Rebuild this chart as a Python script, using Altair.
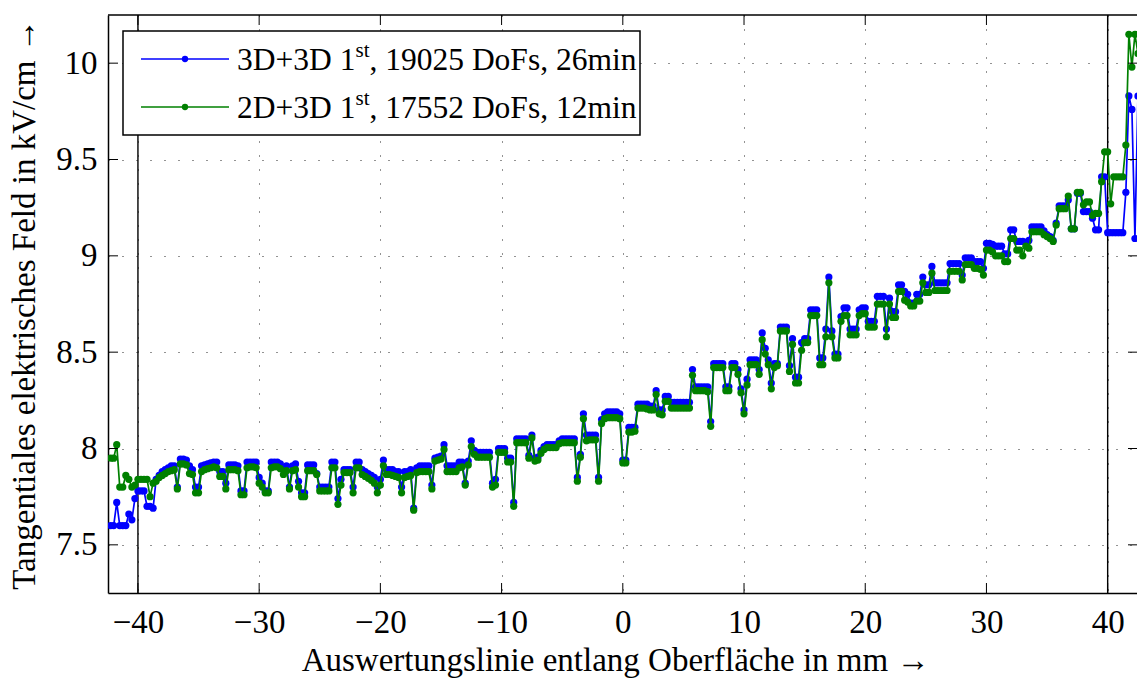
import altair as alt
import pandas as pd

# ---------------- data ----------------
X_START = -42.25   # first sample position (mm)
X_STEP = 0.25      # sample spacing (mm)

BLUE = [
    7.60, 7.60, 7.72, 7.60, 7.60, 7.60, 7.66, 7.63, 7.74, 7.78, 7.78, 7.78, 7.70, 7.70, 7.69, 7.84, 7.86, 7.88, 7.89, 7.90,
    7.91, 7.91, 7.80, 7.945, 7.945, 7.94, 7.91, 7.89, 7.80, 7.80, 7.91, 7.915, 7.92, 7.925, 7.93, 7.93, 7.88, 7.88, 7.82, 7.915,
    7.915, 7.915, 7.91, 7.78, 7.78, 7.93, 7.93, 7.93, 7.93, 7.85, 7.82, 7.78, 7.78, 7.93, 7.93, 7.93, 7.92, 7.89, 7.91, 7.80,
    7.91, 7.92, 7.83, 7.77, 7.77, 7.915, 7.915, 7.915, 7.87, 7.80, 7.80, 7.80, 7.80, 7.93, 7.93, 7.74, 7.84, 7.89, 7.89, 7.89,
    7.80, 7.93, 7.93, 7.89, 7.88, 7.87, 7.86, 7.85, 7.80, 7.84, 7.94, 7.89, 7.89, 7.89, 7.88, 7.88, 7.80, 7.88, 7.88, 7.89,
    7.69, 7.90, 7.91, 7.91, 7.91, 7.91, 7.81, 7.95, 7.955, 7.96, 8.02, 7.91, 7.91, 7.91, 7.91, 7.93, 7.93, 7.82, 7.935, 8.04,
    7.99, 7.98, 7.98, 7.98, 7.98, 7.98, 7.82, 7.84, 8.00, 8.00, 8.00, 7.95, 7.95, 7.72, 8.05, 8.05, 8.05, 8.05, 7.965, 8.07,
    7.95, 7.955, 7.99, 8.01, 8.02, 8.02, 8.02, 8.02, 8.04, 8.05, 8.05, 8.05, 8.05, 8.05, 7.85, 7.97, 8.18, 8.07, 8.07, 8.07,
    8.07, 7.85, 8.15, 8.18, 8.19, 8.19, 8.19, 8.19, 8.18, 7.94, 7.94, 8.11, 8.11, 8.11, 8.23, 8.23, 8.23, 8.23, 8.22, 8.22,
    8.30, 8.20, 8.20, 8.27, 8.27, 8.24, 8.24, 8.24, 8.24, 8.24, 8.24, 8.24, 8.41, 8.32, 8.32, 8.32, 8.32, 8.32, 8.14, 8.44,
    8.44, 8.44, 8.44, 8.32, 8.32, 8.44, 8.44, 8.41, 8.31, 8.20, 8.36, 8.46, 8.46, 8.46, 8.41, 8.60, 8.52, 8.46, 8.34, 8.44,
    8.44, 8.63, 8.63, 8.63, 8.43, 8.57, 8.37, 8.37, 8.55, 8.57, 8.57, 8.72, 8.72, 8.72, 8.47, 8.47, 8.62, 8.89, 8.61, 8.49,
    8.49, 8.685, 8.73, 8.73, 8.62, 8.62, 8.62, 8.72, 8.73, 8.73, 8.66, 8.66, 8.66, 8.79, 8.79, 8.79, 8.62, 8.78, 8.71, 8.71,
    8.85, 8.85, 8.815, 8.80, 8.755, 8.755, 8.80, 8.80, 8.89, 8.85, 8.85, 8.945, 8.86, 8.86, 8.86, 8.86, 8.86, 8.96, 8.96, 8.96,
    8.96, 8.90, 8.99, 8.99, 8.99, 8.97, 8.97, 8.97, 8.935, 9.065, 9.065, 9.06, 9.05, 9.05, 9.05, 9.01, 9.01, 9.135, 9.135, 9.075,
    9.075, 9.075, 9.07, 9.08, 9.15, 9.15, 9.15, 9.15, 9.13, 9.11, 9.10, 9.08, 9.17, 9.26, 9.26, 9.26, 9.29, 9.14, 9.14, 9.325,
    9.325, 9.23, 9.23, 9.23, 9.195, 9.135, 9.135, 9.41, 9.41, 9.12, 9.12, 9.12, 9.12, 9.12, 9.12, 9.33, 9.83, 9.76, 9.09, 9.83,
]

GREEN = [
    7.95, 7.95, 8.02, 7.80, 7.80, 7.86, 7.84, 7.80, 7.81, 7.84, 7.84, 7.84, 7.84, 7.75, 7.82, 7.83, 7.85, 7.86, 7.87, 7.88,
    7.885, 7.89, 7.79, 7.92, 7.92, 7.915, 7.87, 7.865, 7.77, 7.77, 7.88, 7.89, 7.895, 7.90, 7.905, 7.90, 7.855, 7.855, 7.79, 7.89,
    7.89, 7.89, 7.885, 7.76, 7.76, 7.90, 7.905, 7.905, 7.90, 7.82, 7.80, 7.77, 7.77, 7.90, 7.905, 7.905, 7.895, 7.865, 7.885, 7.79,
    7.885, 7.89, 7.80, 7.75, 7.75, 7.885, 7.885, 7.885, 7.865, 7.78, 7.78, 7.78, 7.78, 7.90, 7.90, 7.71, 7.81, 7.875, 7.875, 7.875,
    7.77, 7.90, 7.90, 7.865, 7.855, 7.845, 7.835, 7.82, 7.77, 7.81, 7.91, 7.865, 7.865, 7.86, 7.855, 7.85, 7.77, 7.85, 7.855, 7.86,
    7.68, 7.875, 7.88, 7.88, 7.88, 7.88, 7.79, 7.935, 7.94, 7.945, 7.995, 7.88, 7.88, 7.88, 7.88, 7.90, 7.905, 7.81, 7.915, 8.01,
    7.97, 7.955, 7.955, 7.955, 7.955, 7.955, 7.80, 7.81, 7.98, 7.98, 7.98, 7.93, 7.93, 7.70, 8.03, 8.03, 8.03, 8.03, 7.95, 8.055,
    7.935, 7.94, 7.975, 7.995, 8.005, 8.005, 8.005, 8.005, 8.025, 8.03, 8.03, 8.03, 8.03, 8.03, 7.83, 7.955, 8.155, 8.04, 8.045, 8.045,
    8.045, 7.83, 8.13, 8.155, 8.16, 8.16, 8.16, 8.16, 8.155, 7.925, 7.925, 8.085, 8.085, 8.09, 8.21, 8.21, 8.21, 8.205, 8.20, 8.20,
    8.28, 8.18, 8.175, 8.245, 8.245, 8.21, 8.21, 8.21, 8.21, 8.21, 8.21, 8.21, 8.38, 8.30, 8.30, 8.30, 8.30, 8.295, 8.115, 8.42,
    8.42, 8.42, 8.42, 8.30, 8.30, 8.42, 8.42, 8.385, 8.29, 8.18, 8.33, 8.435, 8.435, 8.435, 8.385, 8.565, 8.49, 8.435, 8.31, 8.42,
    8.43, 8.61, 8.61, 8.61, 8.40, 8.54, 8.34, 8.34, 8.51, 8.55, 8.55, 8.69, 8.69, 8.69, 8.435, 8.435, 8.58, 8.86, 8.58, 8.47,
    8.47, 8.66, 8.69, 8.69, 8.59, 8.59, 8.59, 8.69, 8.70, 8.70, 8.63, 8.63, 8.63, 8.75, 8.75, 8.75, 8.58, 8.75, 8.68, 8.68,
    8.815, 8.815, 8.77, 8.76, 8.74, 8.74, 8.765, 8.765, 8.86, 8.81, 8.81, 8.91, 8.82, 8.82, 8.82, 8.82, 8.82, 8.92, 8.92, 8.92,
    8.92, 8.875, 8.955, 8.955, 8.955, 8.935, 8.935, 8.93, 8.90, 9.03, 9.03, 9.02, 9.00, 9.00, 9.00, 8.97, 8.97, 9.09, 9.09, 9.03,
    9.03, 9.00, 9.05, 9.04, 9.125, 9.125, 9.125, 9.125, 9.11, 9.10, 9.09, 9.075, 9.16, 9.245, 9.245, 9.245, 9.31, 9.14, 9.14, 9.33,
    9.33, 9.265, 9.28, 9.28, 9.21, 9.22, 9.22, 9.385, 9.54, 9.54, 9.27, 9.41, 9.41, 9.41, 9.41, 9.575, 10.15, 9.98, 10.15, 10.05,
]

X_TICKS = [-40, -30, -20, -10, 0, 10, 20, 30, 40]
Y_TICKS = [7.5, 8, 8.5, 9, 9.5, 10]
MARKER_X = [-40, 40]
X_TITLE = "Auswertungslinie entlang Oberfläche in mm →"
Y_TITLE = "Tangentiales elektrisches Feld in kV/cm →"
LEGEND_PARTS = [
    ["3D+3D 1", "st", ", 19025 DoFs, 26min"],
    ["2D+3D 1", "st", ", 17552 DoFs, 12min"],
]
COLORS = ["#0000ff", "#008000"]

# ---------------- layout / style ----------------
W, H = 1029, 578
X_DOMAIN = [-42.47, 42.42]
Y_DOMAIN = [7.25, 10.25]
FONT = "Liberation Serif"
LABEL_SIZE = 33
TITLE_SIZE = 33
LEG_SIZE = 31.5
SUP_SIZE = 21
PT_SIZE = 52

xs = [X_START + X_STEP * i for i in range(len(BLUE))]
blue_df = pd.DataFrame({"x": xs, "y": BLUE})
green_df = pd.DataFrame({"x": xs, "y": GREEN})
one = pd.DataFrame({"k": [0]})

xscale = alt.Scale(domain=X_DOMAIN, nice=False, zero=False)
yscale = alt.Scale(domain=Y_DOMAIN, nice=False, zero=False)

xaxis = alt.Axis(
    values=X_TICKS, format="d", grid=True, gridDash=[1, 13], gridColor="#000",
    gridWidth=1, gridOpacity=0.85, ticks=False, domain=True, domainColor="black",
    domainWidth=1.5, labelFont=FONT, labelFontSize=LABEL_SIZE, labelColor="black",
    labelPadding=13, labelFlush=False, labelOverlap=False,
    title=X_TITLE, titleFont=FONT, titleFontSize=TITLE_SIZE, titleFontWeight="normal",
    titleColor="black", titleX=507, titleY=77, titleBaseline="alphabetic",
    titleAlign="center",
)
yaxis = alt.Axis(
    values=Y_TICKS, format="~g", grid=True, gridDash=[1, 13], gridColor="#000",
    gridWidth=1, gridOpacity=0.85, ticks=False, domain=True, domainColor="black",
    domainWidth=1.5, labelFont=FONT, labelFontSize=LABEL_SIZE, labelColor="black",
    labelPadding=11, labelFlush=False, labelOverlap=False,
    title=Y_TITLE, titleFont=FONT, titleFontSize=TITLE_SIZE, titleFontWeight="normal",
    titleColor="black", titleX=-74, titleY=H / 2, titleBaseline="alphabetic",
    titleAlign="center", titleAngle=270,
)

X = lambda f: alt.X(f, scale=xscale, axis=xaxis)
Y = lambda f: alt.Y(f, scale=yscale, axis=yaxis)

markers = alt.Chart(pd.DataFrame({"x": MARKER_X})).mark_rule(
    color="black", strokeWidth=1.4
).encode(x=X("x:Q"))

def series(df, color):
    line = alt.Chart(df).mark_line(color=color, strokeWidth=1.7, clip=True).encode(
        x=X("x:Q"), y=Y("y:Q"))
    pts = alt.Chart(df).mark_circle(color=color, size=PT_SIZE, opacity=1, clip=True).encode(
        x=X("x:Q"), y=Y("y:Q"))
    return [line, pts]

top_frame = alt.Chart(one).mark_rule(color="black", strokeWidth=1.5).encode(
    x=alt.value(0), x2=alt.value(W + 2), y=alt.value(0))

xt = pd.DataFrame({"x": X_TICKS})
yt = pd.DataFrame({"y": Y_TICKS})
tick_bottom = alt.Chart(xt).mark_rule(color="black", strokeWidth=1).encode(
    x=X("x:Q"), y=alt.value(H), y2=alt.value(H - 10))
tick_top = alt.Chart(xt).mark_rule(color="black", strokeWidth=1).encode(
    x=X("x:Q"), y=alt.value(0), y2=alt.value(10))
tick_left = alt.Chart(yt).mark_rule(color="black", strokeWidth=1).encode(
    y=Y("y:Q"), x=alt.value(0), x2=alt.value(10))
tick_right = alt.Chart(yt).mark_rule(color="black", strokeWidth=1).encode(
    y=Y("y:Q"), x=alt.value(W + 1), x2=alt.value(W - 9))

# legend (built from marks)
LX0, LX1, LY0, LY1 = 15, 532, 16, 120
ROW_Y = [44, 92]
TX = 129
SUP_X = TX + 118.5
REST_X = SUP_X + 14
legend = [alt.Chart(one).mark_rect(fill="white", stroke="black", strokeWidth=1.5).encode(
    x=alt.value(LX0), x2=alt.value(LX1), y=alt.value(LY0), y2=alt.value(LY1))]
for i, (parts, col) in enumerate(zip(LEGEND_PARTS, COLORS)):
    ry = ROW_Y[i]
    legend.append(alt.Chart(one).mark_rule(color=col, strokeWidth=1.5).encode(
        x=alt.value(33), x2=alt.value(121), y=alt.value(ry)))
    legend.append(alt.Chart(one).mark_circle(color=col, size=40, opacity=1).encode(
        x=alt.value(77), y=alt.value(ry)))
    legend.append(alt.Chart(one).mark_text(
        align="left", baseline="alphabetic", font=FONT, fontSize=LEG_SIZE, color="black"
    ).encode(x=alt.value(TX), y=alt.value(ry + 11), text=alt.value(parts[0])))
    legend.append(alt.Chart(one).mark_text(
        align="left", baseline="alphabetic", font=FONT, fontSize=SUP_SIZE, color="black"
    ).encode(x=alt.value(SUP_X), y=alt.value(ry - 2), text=alt.value(parts[1])))
    legend.append(alt.Chart(one).mark_text(
        align="left", baseline="alphabetic", font=FONT, fontSize=LEG_SIZE, color="black"
    ).encode(x=alt.value(REST_X), y=alt.value(ry + 11), text=alt.value(parts[2])))

layers = [markers] + series(blue_df, COLORS[0]) + series(green_df, COLORS[1]) + [
    top_frame, tick_bottom, tick_top, tick_left, tick_right] + legend

chart = alt.layer(*layers).properties(
    width=W, height=H,
    padding={"left": 108, "top": 15, "right": 0, "bottom": 86},
    autosize=alt.AutoSizeParams(type="none"),
    background="white",
).configure_view(stroke=None)

chart.save("out.html", embed_options={"renderer": "svg", "actions": False})
